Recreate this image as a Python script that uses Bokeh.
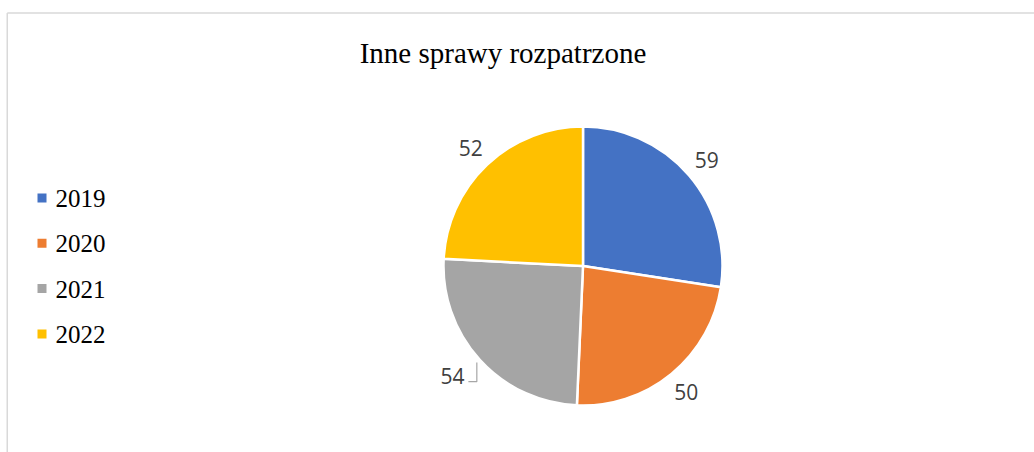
import numpy as np
from bokeh.plotting import figure
from bokeh.models import Range1d, ColumnDataSource
from bokeh.core.properties import value
from bokeh.embed import file_html
from bokeh.resources import INLINE

title = "Inne sprawy rozpatrzone"
years = ["2019", "2020", "2021", "2022"]
counts = [59, 50, 54, 52]
colors = ["#4472C4", "#ED7D31", "#A5A5A5", "#FFC000"]

W, H = 1034, 452
p = figure(width=W, height=H, x_range=Range1d(0, W), y_range=Range1d(0, H),
           output_backend="svg", toolbar_location=None, min_border=0)
p.axis.visible = False
p.grid.visible = False
p.outline_line_color = None
p.background_fill_color = "white"
p.border_fill_color = "white"


def Y(py):
    return H - py


# chart border (left and top visible)
p.line(x=[6.75, 6.75], y=[0, Y(12.5)], line_color="#d9d9d9", line_width=1.5)
p.line(x=[6.75, W], y=[Y(12.5), Y(12.5)], line_color="#d9d9d9", line_width=1.5)

# title
p.text(x=[502.5], y=[Y(52)], text=[title], text_align="center", text_baseline="middle",
       text_font=value("Liberation Serif"), text_font_size="29px", text_color="#000000")

# pie
cx, cy, R = 582.5, Y(265.5), 139.5
total = float(sum(counts))
cum = np.cumsum([0] + counts)
start = np.pi / 2 - cum[:-1] / total * 2 * np.pi
end = np.pi / 2 - cum[1:] / total * 2 * np.pi
src = ColumnDataSource(dict(x=[cx] * len(counts), y=[cy] * len(counts),
                            start=start, end=end, color=colors))
p.wedge(x="x", y="y", radius=R, start_angle="start", end_angle="end",
        direction="clock", fill_color="color", line_color="white", line_width=2.5,
        source=src)

# data labels
mid = (start + end) / 2
Lr = 163
lx = cx + Lr * np.cos(mid)
ly = cy + Lr * np.sin(mid)
lead = 2  # label drawn with a leader line (2021)
lx[lead] -= 10
p.text(x=lx, y=ly, text=[str(c) for c in counts], text_align="center",
       text_baseline="middle", text_font=value("Open Sans"), text_font_size="21px",
       text_color="#404040")

# leader line
ex = cx + (R + 4) * np.cos(mid[lead])
ey = cy + (R + 4) * np.sin(mid[lead])
p.line(x=[lx[lead] + 16, ex, ex], y=[ly[lead] - 6, ly[lead] - 6, ey],
       line_color="#a6a6a6", line_width=1.2)

# legend
n = len(years)
step = 45.3
sq_y = [Y(197.5 + k * step) for k in range(n)]
tx_y = [Y(198 + k * step) for k in range(n)]
p.scatter(x=[41.5] * n, y=sq_y, marker="square", size=9, fill_color=colors,
          line_color=None)
p.text(x=[55] * n, y=tx_y, text=years, text_align="left", text_baseline="middle",
       text_font=value("Liberation Serif"), text_font_size="25px", text_color="#000000")

open("out.html", "w").write(file_html(p, INLINE))
